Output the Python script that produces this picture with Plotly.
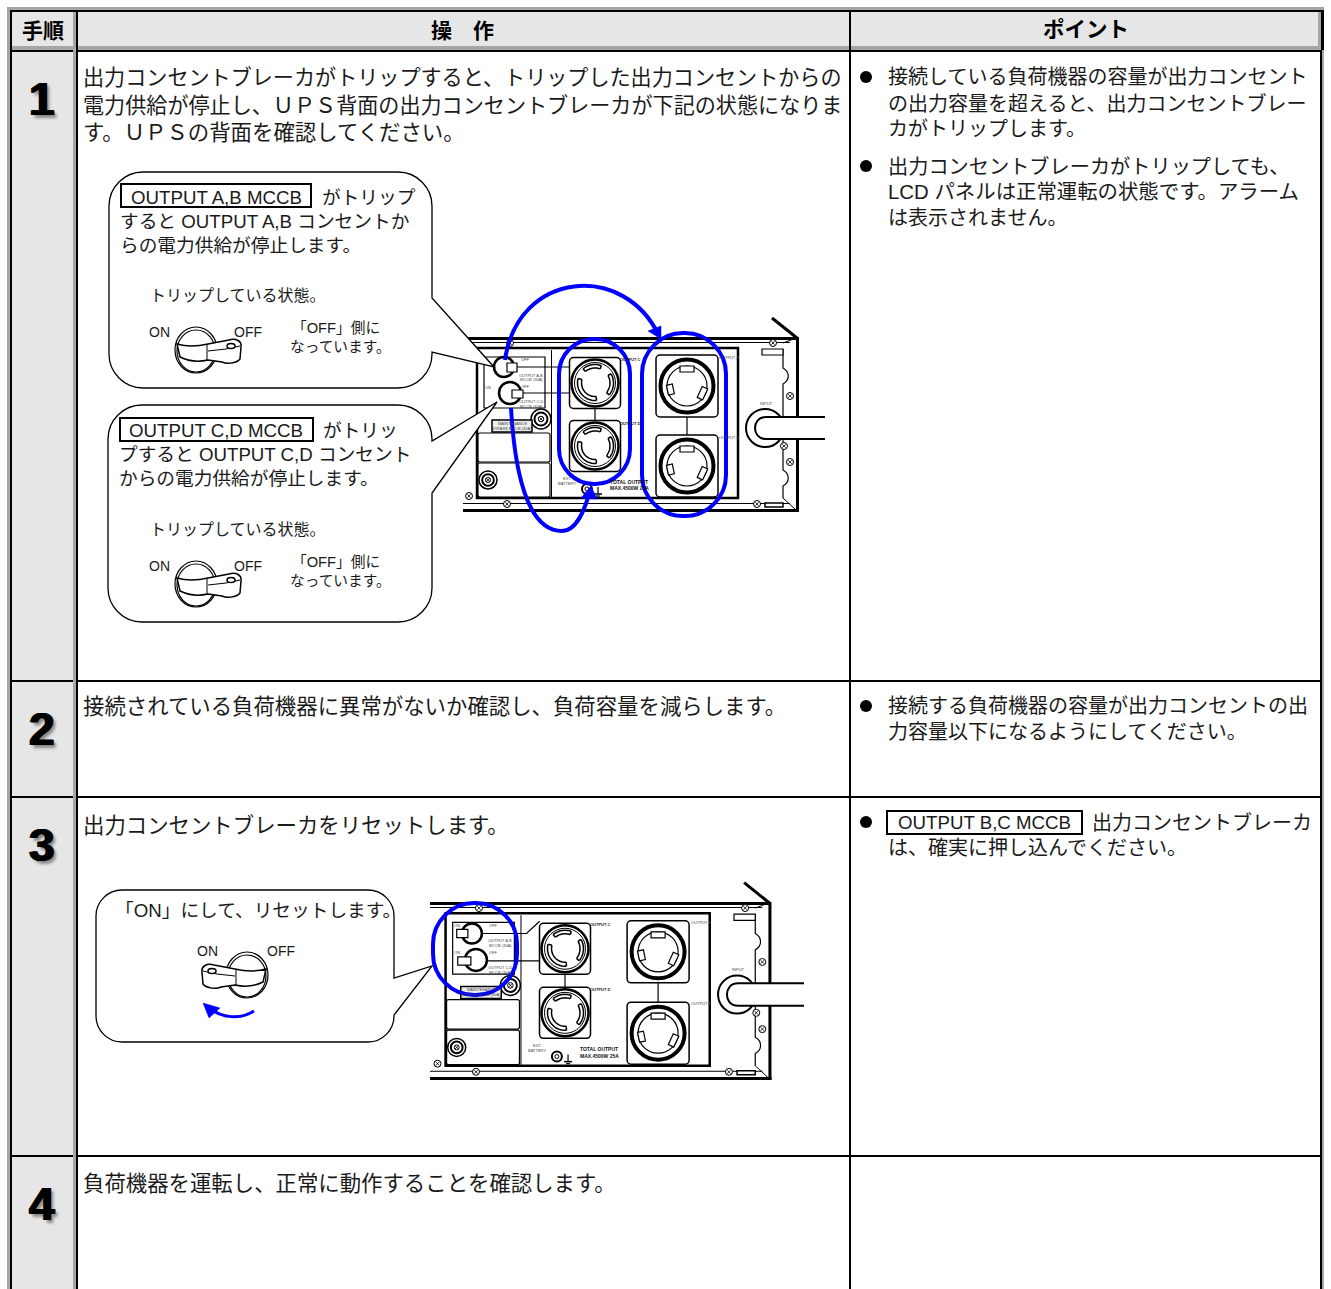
import math
import plotly.graph_objects as go

FONT = "Liberation Sans, Noto Sans CJK JP"
BLUE = "#0000ff"
GREY = "#a6a6a6"
FILL = "#e6e6e6"
INK = "#1a1a1a"

HEADERS = ["手順", "操　作", "ポイント"]
STEPS = ["1", "2", "3", "4"]
OP1 = ["出力コンセントブレーカがトリップすると、トリップした出力コンセントからの",
       "電力供給が停止し、ＵＰＳ背面の出力コンセントブレーカが下記の状態になりま",
       "す。ＵＰＳの背面を確認してください。"]
OP2 = "接続されている負荷機器に異常がないか確認し、負荷容量を減らします。"
OP3 = "出力コンセントブレーカをリセットします。"
OP4 = "負荷機器を運転し、正常に動作することを確認します。"
PT1A = ["接続している負荷機器の容量が出力コンセント", "の出力容量を超えると、出力コンセントブレー", "カがトリップします。"]
PT1B = ["出力コンセントブレーカがトリップしても、", "LCD パネルは正常運転の状態です。アラーム", "は表示されません。"]
PT2 = ["接続する負荷機器の容量が出力コンセントの出", "力容量以下になるようにしてください。"]
PT3 = ["OUTPUT B,C MCCB", "出力コンセントブレーカ", "は、確実に押し込んでください。"]
B1 = ["OUTPUT A,B MCCB", "がトリップ", "すると OUTPUT A,B コンセントか", "らの電力供給が停止します。"]
B2 = ["OUTPUT C,D MCCB", "がトリッ", "プすると OUTPUT C,D コンセント", "からの電力供給が停止します。"]
STATE = "トリップしている状態。"
SIDE = ["「OFF」側に", "なっています。"]
RESET = "「ON」にして、リセットします。"

shapes, notes = [], []


def rect(x0, y0, x1, y1, fill=None, lw=0, col="black"):
    shapes.append(dict(type="rect", x0=x0, y0=y0, x1=x1, y1=y1, fillcolor=fill or "rgba(0,0,0,0)",
                       line=dict(width=lw, color=col)))


def line(x0, y0, x1, y1, lw=1, col="black"):
    shapes.append(dict(type="line", x0=x0, y0=y0, x1=x1, y1=y1, line=dict(width=lw, color=col)))


def path(d, lw=1, col="black", fill=None):
    shapes.append(dict(type="path", path=d, fillcolor=fill or "rgba(0,0,0,0)", line=dict(width=lw, color=col)))


def circ(cx, cy, rx, ry=None, lw=1, col="black", fill=None):
    ry = ry or rx
    shapes.append(dict(type="circle", x0=cx - rx, x1=cx + rx, y0=cy - ry, y1=cy + ry,
                       fillcolor=fill or "rgba(0,0,0,0)", line=dict(width=lw, color=col)))


def txt(x, y, s, size=20, anchor="left", col=INK, shadow=None, family=FONT):
    f = dict(size=size, color=col, family=family)
    if shadow:
        f["shadow"] = shadow
    anchor = "center" if anchor == "middle" else anchor
    notes.append(dict(x=x, y=y, text=s, showarrow=False, xanchor=anchor, yanchor="middle", font=f,
                      align="left", borderpad=0))


def rrect(x0, y0, x1, y1, r):
    k = r * 0.45
    return (f"M{x0+r},{y0} L{x1-r},{y0} C{x1-k},{y0} {x1},{y0+k} {x1},{y0+r} L{x1},{y1-r} "
            f"C{x1},{y1-k} {x1-k},{y1} {x1-r},{y1} L{x0+r},{y1} C{x0+k},{y1} {x0},{y1-k} {x0},{y1-r} "
            f"L{x0},{y0+r} C{x0},{y0+k} {x0+k},{y0} {x0+r},{y0} Z")


def arc(cx, cy, r, a0, a1, lw=1.5, col="black"):
    pts = []
    n = 14
    for i in range(n + 1):
        a = math.radians(a0 + (a1 - a0) * i / n)
        pts.append(f"{cx + r * math.cos(a):.1f},{cy + r * math.sin(a):.1f}")
    path("M" + " L".join(pts), lw=lw, col=col)


def screw(x, y, r=3.5):
    circ(x, y, r, lw=1, fill="white")
    line(x - 1.8, y - 1.8, x + 1.8, y + 1.8, 0.8)
    line(x - 1.8, y + 1.8, x + 1.8, y - 1.8, 0.8)


def ring(x, y, r):
    circ(x, y, r, lw=1.5, fill="white")
    circ(x, y, r * 0.65, lw=2, fill="white")
    screw(x, y, r * 0.28)


def sock_l(cx, cy):
    rect_path = rrect(cx - 25.5, cy - 25.5, cx + 25.5, cy + 25.5, 4)
    path(rect_path, lw=1.5, fill="white")
    circ(cx, cy, 23.5, lw=2.5, fill="white")
    circ(cx, cy, 20.5, lw=1, fill="white")
    for a0, a1, r0, r1 in [(-130, -70, 15, 18.5), (-30, 40, 15, 18.5), (85, 195, 13.5, 17.5)]:
        arc(cx, cy, r1, a0, a1, lw=1.5)
        arc(cx, cy, r0, a0, a1, lw=1.5)
        for a in (a0, a1):
            ra = math.radians(a)
            line(cx + r0 * math.cos(ra), cy + r0 * math.sin(ra), cx + r1 * math.cos(ra), cy + r1 * math.sin(ra), 1.5)


def sock_a(cx, cy):
    path(rrect(cx - 31, cy - 31, cx + 31, cy + 31, 4), lw=1.5, fill="white")
    circ(cx, cy, 26.5, lw=4, fill="white")
    circ(cx, cy, 20, lw=1.2, fill="white")
    for a, hw in ((-90, 7), (25, 6), (168, 5)):
        ra = math.radians(a)
        c, s = math.cos(ra), math.sin(ra)
        px, py = -s, c
        r0, r1 = 14, 20
        p = [(cx + c * r1 + px * hw, cy + s * r1 + py * hw), (cx + c * r0 + px * hw, cy + s * r0 + py * hw),
             (cx + c * r0 - px * hw, cy + s * r0 - py * hw), (cx + c * r1 - px * hw, cy + s * r1 - py * hw)]
        path("M" + " L".join(f"{a1:.1f},{b1:.1f}" for a1, b1 in p) + " Z", lw=1.2, fill="white")


def tiny(x, y, s, size=4, col="#444444", anchor="middle"):
    txt(x, y, s, size=size, anchor=anchor, col=col, family="Liberation Sans")


def ups(ox, oy, sx, sy, left, cable_end, first):
    X = lambda v: round(ox + (v - 595) * sx, 2)
    Y = lambda v: round(oy + (v - 338) * sy, 2)
    # outer case
    rect(left, Y(337), X(798), Y(340), fill="black")
    rect(left, Y(342), X(790), Y(343), fill="black")
    rect(left, Y(509), X(799), Y(512), fill="black")
    rect(left, Y(503), X(790), Y(504), fill="black")
    rect(X(796), Y(337), X(799), Y(512), fill="black")
    line(X(772), Y(318), X(797), Y(338), 3)
    line(X(783), Y(343), X(796), Y(338), 1)
    line(X(783), Y(498), X(796), Y(510), 1)
    # inner frame
    rect(X(477), Y(348), X(738), Y(498), fill="white", lw=2.5)
    rect(X(551), Y(350), X(552), Y(497), fill="black")
    # right side contour
    path(f"M{X(783)},{Y(349)} L{X(783)},{Y(368)} C{X(790)},{Y(372)} {X(790)},{Y(380)} {X(783)},{Y(384)} "
         f"L{X(783)},{Y(470)} C{X(790)},{Y(474)} {X(790)},{Y(482)} {X(783)},{Y(486)} L{X(783)},{Y(498)}", lw=1.2)
    rect(X(762), Y(349), X(783), Y(355), fill="white", lw=1.2)
    rect(X(765), Y(503), X(783), Y(507), fill="white", lw=1.5)
    # screws
    for sx_, sy_ in [(510, 343), (773, 343), (790, 396), (784, 446), (790, 462), (757, 504), (507, 504), (469, 496)]:
        screw(X(sx_), Y(sy_))
    # lower-left blocks
    path(rrect(X(478), Y(433), X(550), Y(462), 2), lw=1.2, fill="white")
    path(rrect(X(478), Y(463), X(550), Y(497), 2), lw=1.2, fill="white")
    ring(X(488), Y(480), 9)
    ring(X(541), Y(419), 10)
    rect(X(492), Y(420), X(532), Y(432), fill="#eeeeee", lw=1.5)
    tiny(X(512), Y(423), "MAINTENANCE")
    tiny(X(512), Y(428), "BYPASS MCCB (30A)")
    # breaker panel
    rect(X(484), Y(357), X(545), Y(408), fill="white", lw=1.2)
    if first:
        line(X(517), Y(367), X(569), Y(367), 1.2)
        line(X(523), Y(393), X(569), Y(393), 1.2)
        circ(X(504), Y(367), 10, lw=2.5, fill="white")
        circ(X(510), Y(393), 11, lw=2.5, fill="white")
        rect(X(507), Y(363), X(517), Y(372), fill="white", lw=1.2)
        rect(X(512), Y(390), X(523), Y(398), fill="white", lw=1.2)
        tiny(X(488), Y(387), "ON")
        tiny(X(525), Y(359), "OFF")
        tiny(X(525), Y(386), "OFF")
    else:
        path(f"M{X(513)},{Y(368)} L{X(557)},{Y(368)} L{X(570)},{Y(356)}", lw=1.2)
        line(X(517), Y(395), X(570), Y(395), 1.2)
        circ(X(503), Y(368), 10, lw=2.5, fill="white")
        circ(X(507), Y(394), 11, lw=2.5, fill="white")
        rect(X(488), Y(364), X(499), Y(372), fill="white", lw=1.2)
        rect(X(489), Y(391), X(502), Y(399), fill="white", lw=1.2)
        tiny(X(488), Y(360), "ON")
        tiny(X(488), Y(387), "ON")
        tiny(X(524), Y(360), "OFF")
        tiny(X(524), Y(387), "OFF")
    tiny(X(531), Y(375), "OUTPUT A,B")
    tiny(X(531), Y(379.5), "MCCB (30A)")
    tiny(X(531), Y(401), "OUTPUT C,D")
    tiny(X(531), Y(406), "MCCB (30A)")
    # sockets
    line(X(595), Y(405), X(595), Y(424), 1.2)
    line(X(687), Y(412), X(687), Y(440), 1.2)
    sock_l(X(595), Y(383))
    sock_l(X(595), Y(446))
    sock_a(X(687), Y(386))
    sock_a(X(687), Y(466))
    tiny(X(630), Y(359), "<b>OUTPUT C</b>", col="#222222")
    tiny(X(630), Y(423), "<b>OUTPUT D</b>", col="#222222")
    tiny(X(729), Y(357), "OUTPUT A")
    tiny(X(729), Y(437), "OUTPUT B")
    tiny(X(567), Y(478), "EXT.")
    tiny(X(567), Y(483), "BATTERY")
    tiny(X(629), Y(482), "<b>TOTAL OUTPUT</b>", size=5, col="#111111")
    tiny(X(629), Y(488), "<b>MAX.4500W 25A</b>", size=5, col="#111111")
    # earth terminal
    circ(X(587), Y(489), 5, lw=2, fill="white")
    circ(X(587), Y(489), 2, lw=1)
    line(X(598), Y(487), X(598), Y(494), 1.2)
    line(X(594), Y(494), X(602), Y(494), 1.5)
    line(X(596), Y(496), X(600), Y(496), 1.2)
    # input cable
    tiny(X(766), Y(403), "INPUT")
    circ(X(765), Y(428), 19, lw=2, fill="white")
    cy0, cy1 = Y(417), Y(439)
    path(f"M{cable_end},{cy0} L{X(766)},{cy0} C{X(758)},{cy0} {X(755)},{Y(423)} {X(755)},{Y(428)} "
         f"C{X(755)},{Y(433)} {X(758)},{cy1} {X(766)},{cy1} L{cable_end},{cy1}", lw=2, fill="white")


def switch(cx, cy, sgn):
    circ(cx, cy, 21, 23, lw=1.2, fill="white")
    circ(cx, cy + 1, 19, 21, lw=1.2, fill="white")
    P = lambda a, b: f"{cx + sgn * a},{cy + b}"
    path("M" + P(-19, -6) + " C" + P(-8, -3) + " " + P(3, -4) + " " + P(12, -6) + " L" + P(33, -10) + " C" + P(40, -12)
         + " " + P(46, -9) + " " + P(45, -3) + " L" + P(44, 9) + " C" + P(40, 14) + " " + P(30, 14) + " " + P(26, 12)
         + " L" + P(12, 10) + " C" + P(3, 12) + " " + P(-8, 11) + " " + P(-16, 7) + " Z", lw=1.5, fill="white")
    line(cx + sgn * 11, cy - 6, cx + sgn * 11, cy + 10, 1)
    path("M" + P(12, 1) + " L" + P(30, -1) + " L" + P(44, -4), lw=1)
    circ(cx + sgn * 35, cy - 4, 4, 2.5, lw=1.5, fill="white")


def bubble(x0, y0, x1, y1, r, t0, tip, t1):
    k = r * 0.45
    d = (f"M{x0+r},{y0} L{x1-r},{y0} C{x1-k},{y0} {x1},{y0+k} {x1},{y0+r} L{x1},{t0} L{tip[0]},{tip[1]} L{x1},{t1} "
         f"L{x1},{y1-r} C{x1},{y1-k} {x1-k},{y1} {x1-r},{y1} L{x0+r},{y1} C{x0+k},{y1} {x0},{y1-k} {x0},{y1-r} "
         f"L{x0},{y0+r} C{x0},{y0+k} {x0+k},{y0} {x0+r},{y0} Z")
    path(d, lw=1.3, fill="white")


def arrow(tip, a, b):
    path(f"M{tip[0]},{tip[1]} L{a[0]},{a[1]} L{b[0]},{b[1]} Z", lw=0.5, col=BLUE, fill=BLUE)


# ---- table frame ----
rect(12, 12, 73, 1289, fill=FILL)
rect(78, 12, 1320, 46, fill=FILL)
rect(12, 12, 73, 46, fill=FILL)
for a in [(7, 7, 10, 1289), (7, 7, 1324, 10), (73, 10, 76, 1289), (12, 46, 1322, 50), (1318, 10, 1321, 50), (1322, 50, 1324, 1289)]:
    rect(*a, fill=GREY)
for a in [(10, 10, 12, 1289), (10, 10, 1324, 12), (76, 10, 78, 1289), (12, 50, 73, 52), (78, 50, 1322, 52),
          (1321, 10, 1324, 50), (1320, 50, 1322, 1289), (849, 12, 851, 1289)]:
    rect(*a, fill="black")
for y in (680, 796, 1155):
    rect(12, y, 73, y + 2, fill="black")
    rect(78, y, 1320, y + 2, fill="black")

# ---- headers and step numbers ----
txt(43, 30, f"<b>{HEADERS[0]}</b>", 21, "middle", "black")
txt(462, 30, f"<b>{HEADERS[1]}</b>", 21, "middle", "black")
txt(1085.5, 30, f"<b>{HEADERS[2]}</b>", 21.5, "middle", "black")
for s, y in zip(STEPS, (99, 729, 845, 1204)):
    txt(42, y, f"<b>{s}</b>", 46, "middle", "black",
        shadow="1px 0 0 #000, -1px 0 0 #000, 3px 3px 3px #888888")

# ---- operation column ----
for s, y, z in zip(OP1, (77, 105, 133), (21.1, 21.1, 21.4)):
    txt(82, y, s, z)
txt(82, 707, OP2, 21.4)
txt(82, 826, OP3, 21.4)
txt(82, 1184, OP4, 21.4)

# ---- point column ----
for y in (77, 166, 706, 822):
    circ(866, y, 6, lw=0, fill="black")
for s, y in zip(PT1A, (77, 103, 129)):
    txt(887, y, s, 20)
for s, y, z in zip(PT1B, (166, 192, 218), (20.2, 20.4, 20)):
    txt(887, y, s, z)
for s, y in zip(PT2, (706, 732)):
    txt(887, y, s, 20)
rect(887, 811, 1082, 834, lw=2)
txt(984, 822, PT3[0], 18.7, "middle")
txt(1091, 822, PT3[1], 20)
txt(887, 848, PT3[2], 20)

# ---- drawings ----
ups(595, 338, 1, 1, 463, 825, True)
ups(565, 903, 1.012, 1.017, 430, 804, False)

bubble(109, 172, 432, 388, 34, 298, (494, 367), 352)
bubble(108, 405, 432, 622, 34, 441, (497, 402), 493)
bubble(96, 890, 394, 1042, 26, 978, (432, 966), 1015)

BS = 18.7
rect(121, 184, 311, 207, lw=2)
txt(216, 197, B1[0], BS, "middle")
txt(321, 197, B1[1], BS)
txt(119, 221, B1[2], BS)
txt(119, 245, B1[3], BS)
rect(120, 418, 313, 441, lw=2)
txt(216, 430, B2[0], BS, "middle")
txt(322, 430, B2[1], BS)
txt(118, 454, B2[2], BS)
txt(118, 478, B2[3], BS)

for dy in (0, 234):
    txt(149, 295 + dy, STATE, 16)
    switch(196, 350 + dy, 1)
    txt(159, 332 + dy, "ON", 14, "middle")
    txt(248, 332 + dy, "OFF", 14, "middle")
    txt(336, 328 + dy, SIDE[0], 14.7, "middle")
    txt(340, 347 + dy, SIDE[1], 14.7, "middle")

txt(114, 910, RESET, 18.7)
switch(247, 975, -1)
txt(207, 951, "ON", 14, "middle")
txt(281, 951, "OFF", 14, "middle")
path("M254,1011 C240,1020 222,1018 209,1008", lw=3, col=BLUE)
arrow((203, 1003), (220, 1008), (209, 1018))

# ---- blue highlights ----
path(rrect(559, 339, 630, 484, 35), lw=4, col=BLUE)
path(rrect(642, 333, 726, 516, 41), lw=4, col=BLUE)
path("M505,360 C518,270 625,262 659,336", lw=4, col=BLUE)
arrow((661, 339), (648, 331), (661, 326))
path("M511,408 C516,495 535,531 562,531 C576,531 585,510 590,490", lw=4, col=BLUE)
arrow((591, 486), (581, 498), (597, 499))
path(rrect(433, 903, 517, 995, 41), lw=4, col=BLUE)

fig = go.Figure()
fig.update_layout(width=1331, height=1289, margin=dict(l=0, r=0, t=0, b=0), autosize=False,
                  paper_bgcolor="white", plot_bgcolor="white", showlegend=False,
                  xaxis=dict(range=[0, 1331], visible=False, fixedrange=True),
                  yaxis=dict(range=[1289, 0], visible=False, fixedrange=True),
                  shapes=shapes, annotations=notes, font=dict(family=FONT))
fig.write_html("out.html", config=dict(displayModeBar=False),
               post_script="document.body.style.margin='0';document.body.style.overflow='hidden';")
